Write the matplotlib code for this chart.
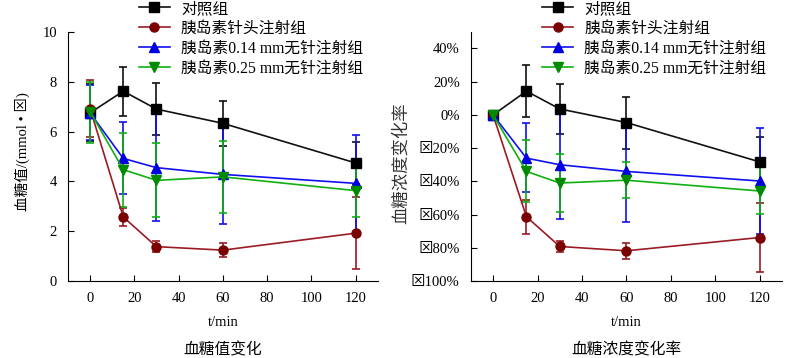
import numpy as np
import matplotlib
matplotlib.use("Agg")
import matplotlib.pyplot as plt
from matplotlib.lines import Line2D

plt.rcParams['font.family'] = ['Liberation Serif', 'Noto Sans CJK SC', 'DejaVu Sans']
plt.rcParams['axes.unicode_minus'] = False

# temps (min)
t = [0, 15, 30, 60, 120]

noms = ["对照组", "胰岛素针头注射组", "胰岛素0.14 mm无针注射组", "胰岛素0.25 mm无针注射组"]
couleurs = ["#111111", "#9b1b24", "#1010f0", "#10b010"]
couleurs_mk = ["#000000", "#7a0000", "#0000e0", "#008a00"]
marqueurs = ["s", "o", "^", "v"]

# Glycémie (mmol/L) : moyenne, borne haute, borne basse
gly_moy = [[6.75, 7.62, 6.9, 6.33, 4.74],
           [6.92, 2.57, 1.38, 1.24, 1.92],
           [6.75, 4.92, 4.55, 4.28, 3.92],
           [6.8, 4.47, 4.04, 4.18, 3.63]]
gly_haut = [[7.9, 8.58, 7.95, 7.23, 5.58],
            [8.05, 2.95, 1.6, 1.53, 3.36],
            [7.88, 6.4, 6.7, 6.3, 5.88],
            [8.0, 5.95, 5.52, 5.62, 4.7]]
gly_bas = [[5.6, 6.63, 5.85, 5.43, 3.9],
           [5.78, 2.2, 1.16, 0.97, 0.48],
           [5.65, 3.48, 2.42, 2.28, 1.96],
           [5.55, 2.98, 2.57, 2.75, 2.56]]

# Taux de variation (%) : moyenne, borne haute, borne basse
var_moy = [[0, 14.3, 3.6, -4.6, -28.3],
           [0, -61.3, -79.2, -81.8, -73.8],
           [0, -26, -30, -34, -39.8],
           [0, -34, -41, -39.3, -45.8]]
var_haut = [[0, 30.3, 18.8, 11, -13],
            [0, -51, -75.8, -77, -53.3],
            [1.5, -5, 3.4, -3.5, -7.8],
            [0, -15.4, -23.6, -28.6, -31.5]]
var_bas = [[0, -1.3, -11.6, -20.6, -43.5],
           [0, -71.6, -82.6, -86.5, -94.3],
           [-1.5, -46.3, -62.6, -64.3, -71.4],
           [0, -52.3, -58.3, -49.8, -59.7]]

fig = plt.figure(figsize=(7.94, 3.58), dpi=100)
ax1 = fig.add_axes([0.0856, 0.215, 0.390, 0.696])
ax2 = fig.add_axes([0.593, 0.215, 0.392, 0.696])


def tracer(ax, moy, haut, bas):
    poignees = []
    for i in range(4):
        m = np.array(moy[i])
        err = [m - np.array(bas[i]), np.array(haut[i]) - m]
        ax.errorbar(t, m, yerr=err, color=couleurs[i], marker=marqueurs[i],
                    markersize=6.5, markerfacecolor=couleurs_mk[i],
                    markeredgecolor=couleurs_mk[i], linewidth=1.2,
                    elinewidth=1.2, capsize=3, capthick=1.2)
        poignees.append(Line2D([], [], color=couleurs[i], marker=marqueurs[i],
                               markersize=6.5, markerfacecolor=couleurs_mk[i],
                               markeredgecolor=couleurs_mk[i], linewidth=1.2,
                               label=noms[i]))
    ax.set_xlim(-10, 130)
    ax.set_xticks(range(0, 121, 20))
    for s in ['top', 'right']:
        ax.spines[s].set_visible(False)
    ax.tick_params(direction='in', labelsize=10.5, length=4)
    ax.tick_params(axis='x', pad=8)
    ax.tick_params(axis='y', pad=8)
    ax.set_xlabel("t/min", fontsize=10.5, labelpad=8)
    ax.legend(handles=poignees, loc='upper left', bbox_to_anchor=(0.228, 1.125),
              frameon=False, fontsize=11.3, handlelength=2.0, handletextpad=0.7,
              labelspacing=0.25, borderaxespad=0, borderpad=0)


tracer(ax1, gly_moy, gly_haut, gly_bas)
ax1.set_ylim(0, 10)
ax1.set_yticks(range(0, 11, 2))
ax1.set_ylabel("血糖值/(mmol • ⊠)", fontsize=10.5, va='center')
ax1.yaxis.set_label_coords(-0.148, 0.52)
ax1.text(0.5, -0.245, "血糖值变化", transform=ax1.transAxes, ha='center', va='top', fontsize=11.3)

tracer(ax2, var_moy, var_haut, var_bas)
ax2.set_ylim(-100, 50)
yt = list(range(-100, 41, 20))
ax2.set_yticks(yt)
ax2.set_yticklabels([("⊠%d%%" % -v) if v < 0 else ("%d%%" % v) for v in yt])
ax2.set_ylabel("血糖浓度变化率", fontsize=12.5, va='center', color='#333333')
ax2.yaxis.set_label_coords(-0.222, 0.474)
ax2.text(0.5, -0.245, "血糖浓度变化率", transform=ax2.transAxes, ha='center', va='top', fontsize=11.3)

fig.savefig("out.png", dpi=100)
